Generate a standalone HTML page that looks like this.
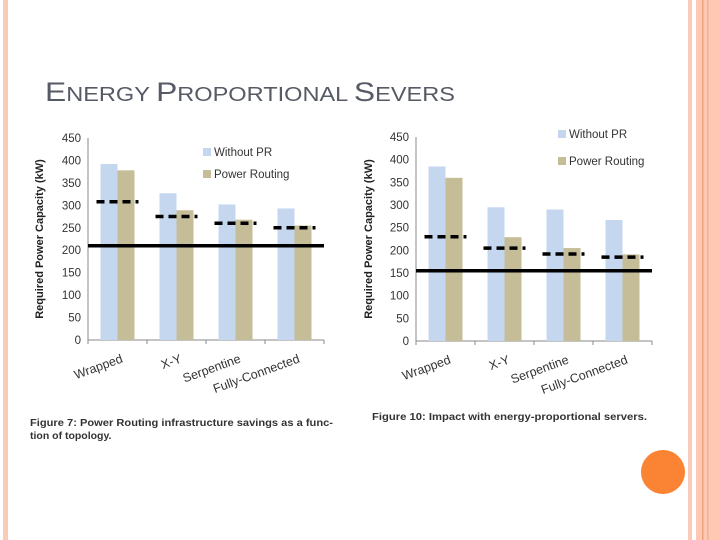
<!DOCTYPE html>
<html><head><meta charset="utf-8"><style>
html,body{margin:0;padding:0;background:#fff;}
body{width:720px;height:540px;position:relative;overflow:hidden;font-family:"Liberation Sans",sans-serif;}
</style></head><body>
<svg id="s" width="720" height="540" xmlns="http://www.w3.org/2000/svg" style="position:absolute;left:0;top:0">
<rect x="3" y="0" width="5" height="540" fill="#f9cbb8"/>
<rect x="688" y="0" width="4" height="540" fill="#f9cbb8"/>
<rect x="696" y="0" width="24" height="540" fill="#fdc9b3"/>
<rect x="702" y="0" width="1.5" height="540" fill="#f0a080"/>
<rect x="707" y="0" width="1.5" height="540" fill="#f3b095"/>
<circle cx="663" cy="472" r="22" fill="#fb8434"/>
<text x="45" y="101" fill="#555a64" font-size="20" textLength="410" lengthAdjust="spacingAndGlyphs"><tspan font-size="27">E</tspan>NERGY <tspan font-size="27">P</tspan>ROPORTIONAL <tspan font-size="27">S</tspan>EVERS</text>
<text x="30" y="426" font-size="10.5" font-weight="bold" fill="#333" textLength="303" lengthAdjust="spacingAndGlyphs">Figure 7: Power Routing infrastructure savings as a func-</text>
<text x="30" y="439" font-size="10.5" font-weight="bold" fill="#333">tion of topology.</text>
<text x="372" y="420" font-size="10.5" font-weight="bold" fill="#333" textLength="275" lengthAdjust="spacingAndGlyphs">Figure 10: Impact with energy-proportional servers.</text>
</svg>
<script>
const categories = ["Wrapped","X-Y","Serpentine","Fully-Connected"];
const yTicks = [0,50,100,150,200,250,300,350,400,450];
const c1Without = [392,327,302,293];
const c1Routing = [378,289,268,255];
const c1Dashed = [308,275,260,250];
const c1Solid = 210;
const c2Without = [385,295,290,267];
const c2Routing = [360,229,205,191];
const c2Dashed = [230,205,192,185];
const c2Solid = 155;

const svg = document.getElementById('s');
const NS = 'http://www.w3.org/2000/svg';
function mk(tag, attrs, parent){
  const e = document.createElementNS(NS, tag);
  for (const k in attrs) e.setAttribute(k, attrs[k]);
  (parent||svg).appendChild(e);
  return e;
}
function chart(cfg, without, routing, dashed, solid, id){
  const g = mk('g', {});
  
  
  const y = v => cfg.y0 - v * (cfg.y0 - cfg.y450) / 450;
  const gw = (cfg.x1 - cfg.x0) / categories.length;
  const bw = 17;
  yTicks.forEach(t => {
    const tx = mk('text', {x: cfg.x0 - 7, y: y(t) + 4, 'font-size': 11.5, 'text-anchor': 'end', fill: '#333'}, g);
    tx.textContent = t;
    
    
  });
  const ax = mk('line', {x1: cfg.x0, y1: cfg.y0, x2: cfg.x1, y2: cfg.y0, stroke: '#888', 'stroke-width': 1}, g);
  
  
  const ay = mk('line', {x1: cfg.x0, y1: cfg.y0, x2: cfg.x0, y2: cfg.y450, stroke: '#888', 'stroke-width': 1}, g);
  
  
  for (let i = 0; i <= categories.length; i++) {
    const tk = mk('line', {x1: cfg.x0 + i*gw, y1: cfg.y0, x2: cfg.x0 + i*gw, y2: cfg.y0 + 4, stroke: '#888'}, g);
    
    
  }
  categories.forEach((c, i) => {
    const cx = cfg.x0 + gw * (i + 0.5);
    const b1 = mk('rect', {x: cx - bw, y: y(without[i]), width: bw, height: y(0) - y(without[i]), fill: '#c5d7ef'}, g);
    
    
    const b2 = mk('rect', {x: cx, y: y(routing[i]), width: bw, height: y(0) - y(routing[i]), fill: '#c5bd98'}, g);
    
    
    const d = mk('line', {x1: cx - 21, y1: y(dashed[i]), x2: cx + 21, y2: y(dashed[i]), stroke: '#000', 'stroke-width': 3.5, 'stroke-dasharray': '8,5'}, g);
    
    
    const lx = cx + 6, ly = cfg.y0 + 22;
    const lb = mk('text', {x: lx, y: ly, 'font-size': 12.5, 'text-anchor': 'end', fill: '#333', transform: `rotate(-20 ${lx} ${ly})`}, g);
    lb.textContent = c;
    
    
  });
  const sl = mk('line', {x1: cfg.x0, y1: y(solid), x2: cfg.x1, y2: y(solid), stroke: '#000', 'stroke-width': 3.5}, g);
  
  
  const at = mk('text', {x: cfg.titleX, y: (cfg.y0 + cfg.y450) / 2, 'font-size': 11, 'font-weight': 'bold', 'text-anchor': 'middle', fill: '#222', transform: `rotate(-90 ${cfg.titleX} ${(cfg.y0+cfg.y450)/2})`}, g);
  at.textContent = 'Required Power Capacity (kW)';
  
  
  [['Without PR', '#c5d7ef', cfg.l1y], ['Power Routing', '#c5bd98', cfg.l2y]].forEach(([t, col, ly]) => {
    const sw = mk('rect', {x: cfg.lx, y: ly - 8, width: 8, height: 8, fill: col}, g);
    
    
    const lt = mk('text', {x: cfg.lx + 11, y: ly, 'font-size': 11.5, fill: '#333'}, g);
    lt.textContent = t;
    
    
  });
}
chart({x0: 88, x1: 324, y0: 340, y450: 138, titleX: 43, lx: 203, l1y: 156, l2y: 178}, c1Without, c1Routing, c1Dashed, c1Solid, 'chart-figure7');
chart({x0: 416, x1: 652, y0: 341, y450: 137, titleX: 372, lx: 558, l1y: 138, l2y: 165}, c2Without, c2Routing, c2Dashed, c2Solid, 'chart-figure10');
</script>
</body></html>
